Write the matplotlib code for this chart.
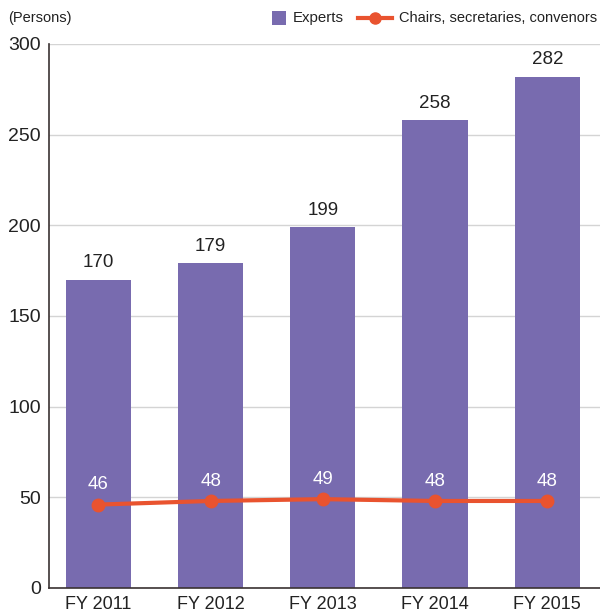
import matplotlib
matplotlib.use("Agg")
import matplotlib.pyplot as plt
from matplotlib.lines import Line2D
from matplotlib.patches import Rectangle

categories = ["FY 2011", "FY 2012", "FY 2013", "FY 2014", "FY 2015"]
experts = [170, 179, 199, 258, 282]
chairs = [46, 48, 49, 48, 48]
yticks = [0, 50, 100, 150, 200, 250, 300]

plt.rcParams['font.family'] = ['Liberation Sans', 'DejaVu Sans']

purple = "#786BAF"
orange = "#E9532F"
W, H = 600, 613

fig = plt.figure(figsize=(W/100, H/100), dpi=100)
ax = fig.add_axes([49/W, 25/H, 1 - 49/W, (588-44)/H])
x = list(range(len(categories)))

ax.bar(x, experts, width=0.58, color=purple, zorder=2)
ax.plot(x, chairs, color=orange, lw=3, marker='o', ms=9, zorder=3)

for xi, v in zip(x, experts):
    ax.annotate(str(v), (xi, v), xytext=(0, 6), textcoords='offset points',
                ha='center', va='bottom', fontsize=13.5, color='#222222')
for xi, v in zip(x, chairs):
    ax.annotate(str(v), (xi, v), xytext=(0, 8), textcoords='offset points',
                ha='center', va='bottom', fontsize=13.5, color='white', zorder=4)

ax.set_xlim(-0.44, 4.47)
ax.set_ylim(0, 300)
ax.set_yticks(yticks)
ax.set_yticklabels([str(t) for t in yticks], fontsize=14, color='#222222')
ax.set_xticks(x)
ax.set_xticklabels(categories, fontsize=13, color='#222222')
ax.tick_params(axis='y', length=0, pad=6)
ax.tick_params(axis='x', length=0, pad=6)
ax.grid(axis='y', color='#d4d4d4', lw=1, zorder=0)
ax.set_axisbelow(True)
for s in ['top', 'right']:
    ax.spines[s].set_visible(False)
for s in ['left', 'bottom']:
    ax.spines[s].set_color('#3a3232')
    ax.spines[s].set_linewidth(1.2)

fig.text(8/W, 1 - 18/H, "(Persons)", fontsize=10.5, va='center', ha='left', color='#222222')

# legend (figure coordinates)
ly = 1 - 18/H
fig.add_artist(Rectangle((272/W, 1 - 25/H), 14/W, 14/H, transform=fig.transFigure,
                         facecolor=purple, edgecolor='none'))
fig.text(293/W, ly, "Experts", fontsize=10.8, va='center', ha='left', color='#222222')
fig.add_artist(Line2D([358/W, 392/W], [ly, ly], transform=fig.transFigure,
                      color=orange, lw=3))
fig.add_artist(Line2D([375/W], [ly], transform=fig.transFigure,
                      color=orange, marker='o', ms=8))
fig.text(597/W, ly, "Chairs, secretaries, convenors", fontsize=10.5, va='center',
         ha='right', color='#222222')

fig.savefig("out.png", dpi=100)
